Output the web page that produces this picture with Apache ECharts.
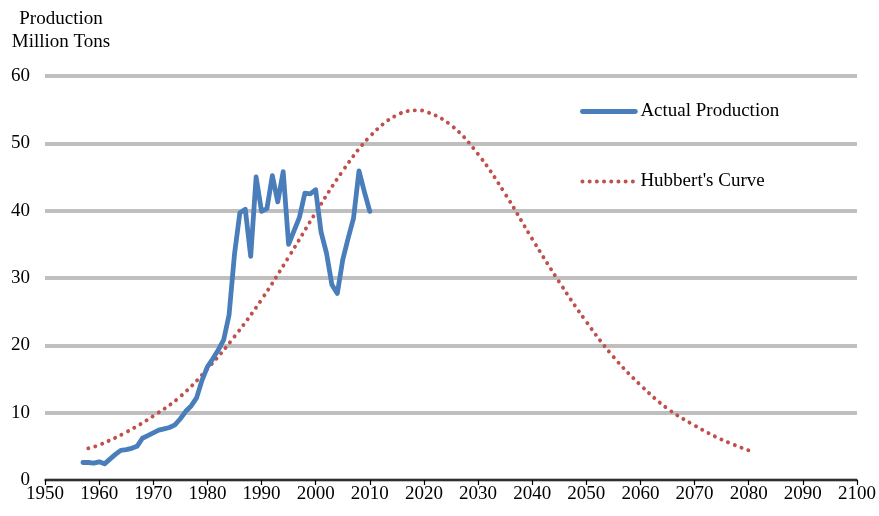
<!DOCTYPE html>
<html>
<head>
<meta charset="utf-8">
<script src="https://cdn.jsdelivr.net/npm/echarts@6/dist/echarts.min.js"></script>
<style>
  html, body { margin: 0; padding: 0; background: #fff; }
  #chart { width: 879px; height: 516px; }
</style>
</head>
<body>
<div id="chart"></div>
<script>
// Annual production, million tons
const actualYears = [
  1957, 1958, 1959, 1960, 1961, 1962, 1963, 1964, 1965, 1966,
  1967, 1968, 1969, 1970, 1971, 1972, 1973, 1974, 1975, 1976,
  1977, 1978, 1979, 1980, 1981, 1982, 1983, 1984, 1985, 1986,
  1987, 1988, 1989, 1990, 1991, 1992, 1993, 1994, 1995, 1996,
  1997, 1998, 1999, 2000, 2001, 2002, 2003, 2004, 2005, 2006,
  2007, 2008, 2009, 2010
];
const actualValues = [
  2.6, 2.6, 2.5, 2.7, 2.4, 3.1, 3.8, 4.4, 4.5, 4.7,
  5.0, 6.2, 6.6, 7.0, 7.4, 7.6, 7.8, 8.2, 9.1, 10.2,
  11.0, 12.2, 14.8, 16.8, 18.0, 19.3, 20.8, 24.5, 33.5, 39.7,
  40.2, 33.2, 45.0, 39.9, 40.3, 45.2, 41.3, 45.8, 35.0, 37.0,
  39.0, 42.6, 42.5, 43.1, 36.8, 33.7, 29.0, 27.7, 32.7, 35.9,
  38.9, 45.9, 42.8, 39.9
];

// Hubbert's curve fit
const hubbertYears = [
  1958, 1960, 1965, 1970, 1975, 1980, 1985, 1990, 1995, 2000,
  2005, 2010, 2015, 2019, 2020, 2025, 2030, 2035, 2040, 2045,
  2050, 2055, 2060, 2065, 2070, 2075, 2080
];
const hubbertValues = [
  4.7, 5.2, 7.1, 9.5, 12.4, 16.5, 21.3, 26.8, 33.1, 39.7,
  45.9, 51.0, 54.2, 54.9, 54.8, 52.7, 48.4, 42.5, 35.8, 29.4,
  23.5, 18.3, 14.1, 10.6, 8.1, 6.0, 4.4
];

const seriesNames = ['Actual Production', "Hubbert's Curve"];
const yearTicks = { min: 1950, max: 2100, step: 10 };
const valueTicks = { min: 0, max: 60, step: 10 };

const pair = (xs, ys) => xs.map((x, i) => [x, ys[i]]);

const FONT = '"Liberation Serif", "Times New Roman", serif';
const FONT_SIZE = 19;
const BLUE = '#4a7ebb';
const RED = '#c0504d';

const chart = echarts.init(document.getElementById('chart'), null, { renderer: 'canvas' });

chart.setOption({
  animation: false,
  backgroundColor: '#ffffff',
  textStyle: { fontFamily: FONT },
  grid: { left: 45, right: 21, top: 76, bottom: 36, containLabel: false },
  graphic: [{
    type: 'text',
    x: 61,
    y: 8,
    style: {
      text: 'Production\nMillion Tons',
      font: FONT_SIZE + 'px ' + FONT,
      fill: '#000',
      align: 'center',
      verticalAlign: 'top',
      lineHeight: 23
    }
  }],
  legend: {
    orient: 'vertical',
    left: 580,
    top: 102,
    padding: 0,
    itemGap: 51,
    itemWidth: 53,
    itemHeight: 20,
    textStyle: { fontFamily: FONT, fontSize: FONT_SIZE, color: '#000' },
    // line sample only, no marker symbol
    itemStyle: { color: 'transparent', borderColor: 'transparent', borderWidth: 0, opacity: 0 },
    lineStyle: { width: 'inherit', type: 'inherit', cap: 'round' },
    data: seriesNames
  },
  xAxis: {
    type: 'value',
    min: yearTicks.min,
    max: yearTicks.max,
    interval: yearTicks.step,
    axisLine: { show: true, lineStyle: { color: '#000', width: 1.5 } },
    axisTick: { show: true, inside: false, length: 5, lineStyle: { color: '#000', width: 1.2 } },
    axisLabel: {
      color: '#000', fontFamily: FONT, fontSize: FONT_SIZE, margin: 5,
      formatter: v => String(v)
    },
    splitLine: { show: false }
  },
  yAxis: {
    type: 'value',
    min: valueTicks.min,
    max: valueTicks.max,
    interval: valueTicks.step,
    axisLine: { show: false },
    axisTick: { show: false },
    axisLabel: { color: '#000', fontFamily: FONT, fontSize: FONT_SIZE, margin: 15 },
    splitLine: { show: true, lineStyle: { color: '#bfbfbf', width: 4 } }
  },
  series: [
    {
      name: seriesNames[0],
      type: 'line',
      data: pair(actualYears, actualValues),
      symbol: 'none',
      z: 3,
      lineStyle: { color: BLUE, width: 4.8, join: 'round', cap: 'round' },
      itemStyle: { color: BLUE }
    },
    {
      name: seriesNames[1],
      type: 'line',
      data: pair(hubbertYears, hubbertValues),
      symbol: 'none',
      smooth: 0.4,
      z: 2,
      lineStyle: { color: RED, width: 3.9, type: [0.1, 7.1], cap: 'round' },
      itemStyle: { color: RED }
    }
  ]
});
</script>
</body>
</html>
